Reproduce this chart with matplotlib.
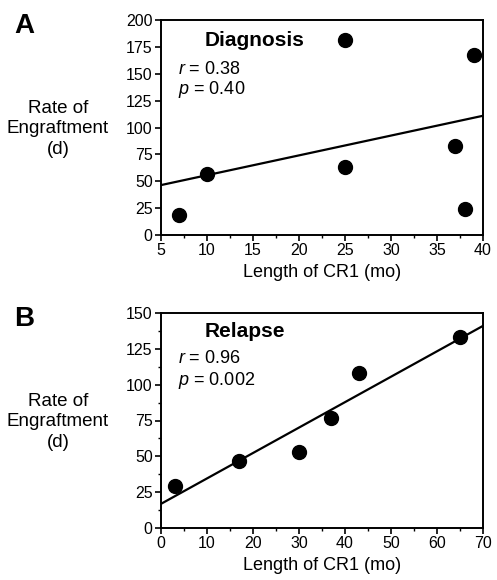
import numpy as np
import matplotlib
matplotlib.use("Agg")
import matplotlib.pyplot as plt
from matplotlib.ticker import MultipleLocator

plt.rcParams['font.family'] = ['Liberation Sans', 'DejaVu Sans']
plt.rcParams['mathtext.fontset'] = 'custom'
plt.rcParams['mathtext.it'] = 'Liberation Sans:italic'
plt.rcParams['mathtext.rm'] = 'Liberation Sans'

# Panel A: Diagnosis
diag_x = [7, 10, 25, 25, 37, 38, 39]
diag_y = [19, 57, 181, 63, 83, 24, 167]
diag_r = "0.38"
diag_p = "0.40"

# Panel B: Relapse
rel_x = [3, 17, 30, 37, 43, 65]
rel_y = [29, 47, 53, 77, 108, 133]
rel_r = "0.96"
rel_p = "0.002"

W, H = 497, 580
fig = plt.figure(figsize=(W / 100, H / 100), dpi=100)

def add_ax(left, top, right, bottom):
    return fig.add_axes([left / W, 1 - bottom / H, (right - left) / W, (bottom - top) / H])

axA = add_ax(161, 20, 483, 235)
axB = add_ax(161, 313, 483, 528)

def style(ax, xlim, xmaj, xmin, ylim, ymaj, ymin):
    ax.set_xlim(*xlim)
    ax.set_ylim(*ylim)
    ax.xaxis.set_major_locator(MultipleLocator(xmaj))
    ax.xaxis.set_minor_locator(MultipleLocator(xmin))
    ax.yaxis.set_major_locator(MultipleLocator(ymaj))
    if ymin:
        ax.yaxis.set_minor_locator(MultipleLocator(ymin))
    for s in ax.spines.values():
        s.set_linewidth(1.4)
    ax.tick_params(which='major', direction='out', length=4, width=1.2, labelsize=11.5, pad=2)
    ax.tick_params(which='minor', direction='out', length=2.5, width=1.0)
    ax.set_xlabel("Length of CR1 (mo)", fontsize=13, labelpad=4)

def panel(ax, x, y, title, r, p, letter, ylabel_y, letter_y, ys):
    x = np.array(x, float); y = np.array(y, float)
    ax.scatter(x, y, s=100, color='black', zorder=3, clip_on=False)
    m, b = np.polyfit(x, y, 1)
    xl = np.array(ax.get_xlim())
    ax.plot(xl, m * xl + b, color='black', lw=1.6)
    ax.text(0.137, ys[0], title, transform=ax.transAxes, fontsize=15, fontweight='bold', va='baseline')
    ax.text(0.053, ys[1], r"$r$ = " + r, transform=ax.transAxes, fontsize=13, va='baseline')
    ax.text(0.053, ys[2], r"$p$ = " + p, transform=ax.transAxes, fontsize=13, va='baseline')
    fig.text(58 / W, 1 - ylabel_y / H, "Rate of\nEngraftment\n(d)", ha='center', va='center',
             fontsize=13.5, linespacing=1.3)
    fig.text(14 / W, 1 - letter_y / H, letter, fontsize=20, fontweight='bold', va='center', ha='left')

style(axA, (5, 40), 5, 2.5, (0, 200), 25, None)
style(axB, (0, 70), 10, 5, (0, 150), 25, 12.5)

panel(axA, diag_x, diag_y, "Diagnosis", diag_r, diag_p, "A", 129, 26, (0.879, 0.749, 0.654))
panel(axB, rel_x, rel_y, "Relapse", rel_r, rel_p, "B", 422, 319, (0.890, 0.766, 0.665))

fig.savefig("out.png", dpi=100)
